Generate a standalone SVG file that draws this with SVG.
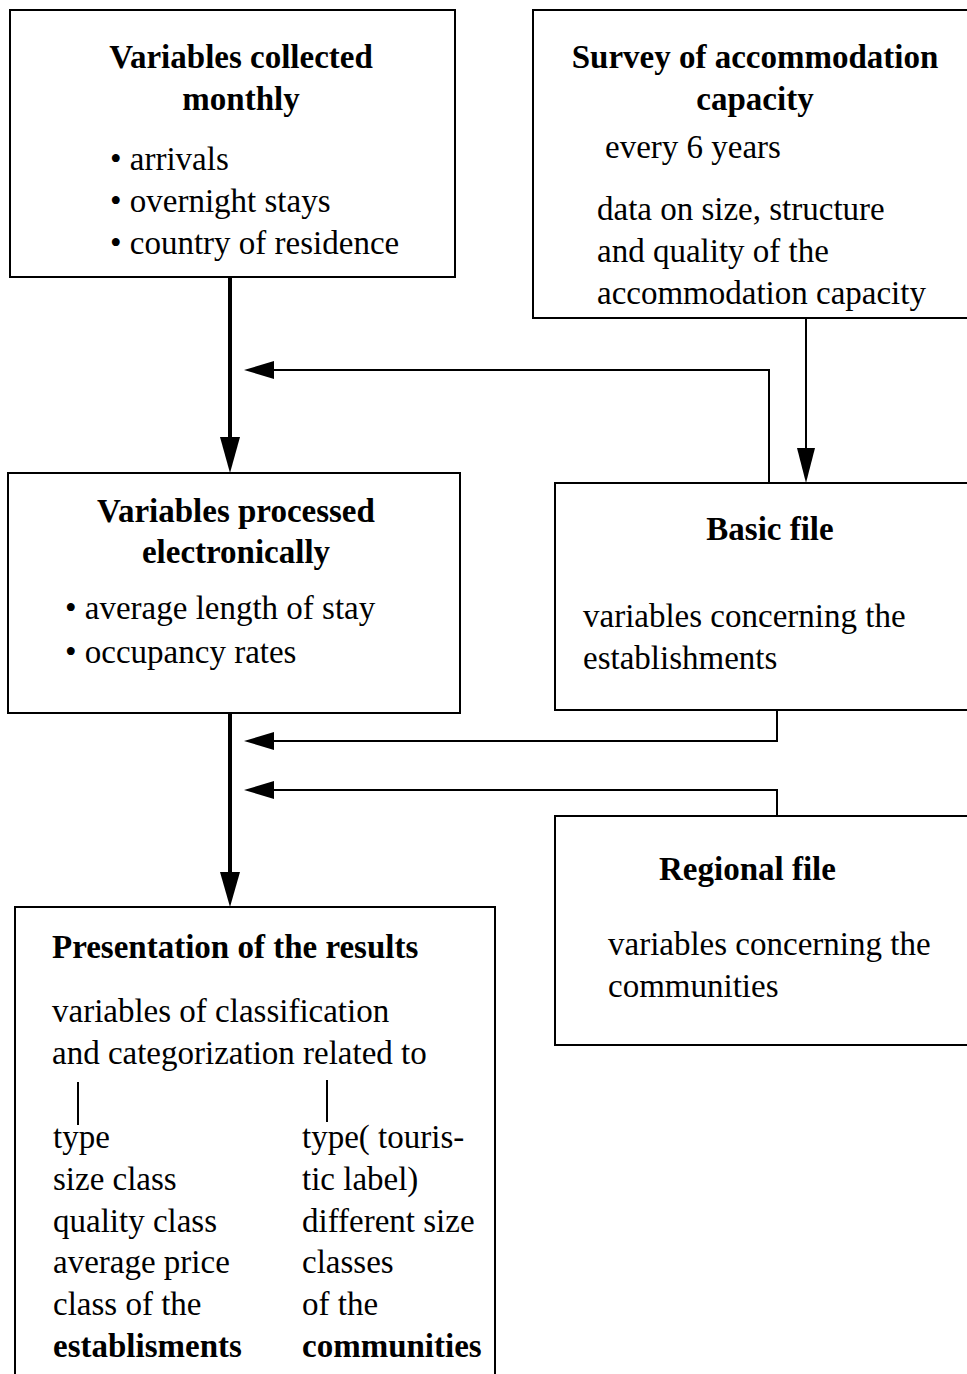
<svg xmlns="http://www.w3.org/2000/svg" width="967" height="1374" viewBox="0 0 967 1374">
<defs>
<style>
.box{fill:#fff;stroke:#000;stroke-width:2}
.t{font-family:"Liberation Serif","Times New Roman",serif;font-size:33px;fill:#000}
.b{font-weight:bold}
.c{text-anchor:middle}
.ln{fill:none;stroke:#000;stroke-width:2}
.thick{fill:none;stroke:#000;stroke-width:4}
.ah{fill:#000}
</style>
</defs>
<rect width="967" height="1374" fill="#fff"/>

<g id="connectors">
<path class="thick" d="M230,277 V440"/>
<path class="ah" d="M220,437 L240,437 L230,473 Z"/>
<path class="ln" d="M806,318 V450"/>
<path class="ah" d="M797,448 L815,448 L806,483 Z"/>
<path class="ln" d="M769,483 V370 H270"/>
<path class="ah" d="M244,370 L274,361 L274,379 Z"/>
<path class="thick" d="M230,713 V875"/>
<path class="ah" d="M220,872 L240,872 L230,907 Z"/>
<path class="ln" d="M777,710 V741 H270"/>
<path class="ah" d="M244,741 L274,732 L274,750 Z"/>
<path class="ln" d="M777,816 V790 H270"/>
<path class="ah" d="M244,790 L274,781 L274,799 Z"/>
</g>

<g id="monthly">
<rect class="box" x="10" y="10" width="445" height="267"/>
<text class="t b c" x="241" y="68">Variables collected</text>
<text class="t b c" x="241" y="110">monthly</text>
<text class="t" x="110" y="170">• arrivals</text>
<text class="t" x="110" y="212">• overnight stays</text>
<text class="t" x="110" y="254">• country of residence</text>
</g>

<g id="survey">
<rect class="box" x="533" y="10" width="450" height="308"/>
<text class="t b c" x="755" y="68">Survey of accommodation</text>
<text class="t b c" x="755" y="110">capacity</text>
<text class="t" x="605" y="158">every 6 years</text>
<text class="t" x="597" y="220">data on size, structure</text>
<text class="t" x="597" y="262">and quality of the</text>
<text class="t" x="597" y="304">accommodation capacity</text>
</g>

<g id="processed">
<rect class="box" x="8" y="473" width="452" height="240"/>
<text class="t b c" x="236" y="522">Variables processed</text>
<text class="t b c" x="236" y="563">electronically</text>
<text class="t" x="65" y="619">• average length of stay</text>
<text class="t" x="65" y="663">• occupancy rates</text>
</g>

<g id="basic">
<rect class="box" x="555" y="483" width="430" height="227"/>
<text class="t b c" x="770" y="540">Basic file</text>
<text class="t" x="583" y="627">variables concerning the</text>
<text class="t" x="583" y="669">establishments</text>
</g>

<g id="regional">
<rect class="box" x="555" y="816" width="430" height="229"/>
<text class="t b" x="659" y="880">Regional file</text>
<text class="t" x="608" y="955">variables concerning the</text>
<text class="t" x="608" y="997">communities</text>
</g>

<g id="presentation">
<path class="box" d="M15,1380 V907 H495 V1380"/>
<text class="t b" x="52" y="958">Presentation of the results</text>
<text class="t" x="52" y="1022">variables of classification</text>
<text class="t" x="52" y="1064">and categorization related to</text>
<path class="ln" d="M78,1082 V1125 M327,1080 V1122"/>
<text class="t" x="53" y="1148">type</text>
<text class="t" x="53" y="1190">size class</text>
<text class="t" x="53" y="1232">quality class</text>
<text class="t" x="53" y="1273">average price</text>
<text class="t" x="53" y="1315">class of the</text>
<text class="t b" x="53" y="1357">establisments</text>
<text class="t" x="302" y="1148">type( touris-</text>
<text class="t" x="302" y="1190">tic label)</text>
<text class="t" x="302" y="1232">different size</text>
<text class="t" x="302" y="1273">classes</text>
<text class="t" x="302" y="1315">of the</text>
<text class="t b" x="302" y="1357">communities</text>
</g>
</svg>
